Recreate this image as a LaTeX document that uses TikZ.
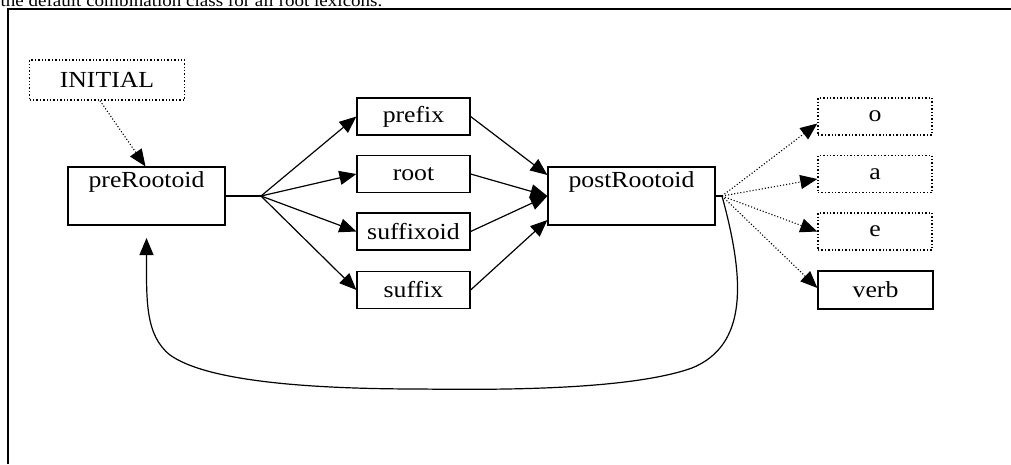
\documentclass[tikz,border=0pt]{standalone}
\usepackage{fontspec}
\setmainfont{Liberation Serif}
\newfontfamily\lblfont[FakeStretch=1.12]{Liberation Serif}
\usetikzlibrary{arrows.meta}
\begin{document}
\begin{tikzpicture}[x=1pt, y=-1pt, line width=1.2pt,
  box/.style = {shape=rectangle, draw, align=center, fill=white, font=\lblfont\fontsize{23}{26}\selectfont, inner sep=0pt, minimum height=37pt, minimum width=113pt},
  bigbox/.style = {box, text height=16pt, text depth=34pt, inner sep=4pt, minimum height=58pt},
  dottedbox/.style = {box, dotted, line width=1.4pt},
  arr/.style = {-{Triangle[length=17pt, width=14pt]}},
  dotarr/.style = {arr, dotted, line width=1.1pt}]
	\useasboundingbox (0,0) rectangle (1011,464);
	\clip (0,0) rectangle (1011,464);
	\node[anchor=base west, font=\lblfont\fontsize{17}{19}\selectfont, inner sep=0pt] (cap) at (0,6) {the default combination class for all root lexicons.};
	\draw[line width=1.6pt] (8,464) -- (8,9) -- (1011,9);
	% states
	\node[dottedbox, minimum width=155pt, minimum height=40pt] (init) at (107,80) {INITIAL};
	\node[bigbox, minimum width=157pt] (pre) at (146.5,196) {preRootoid};
	\node[box] (prefix) at (413.5,116.5) {prefix};
	\node[box] (root) at (413.5,174) {root};
	\node[box] (sfxoid) at (413.5,231.5) {suffixoid};
	\node[box] (suffix) at (413.5,290) {suffix};
	\node[bigbox, minimum width=167pt] (post) at (631.5,196) {postRootoid};
	\node[dottedbox, minimum width=114pt] (o) at (875,116.5) {o};
	\node[dottedbox, minimum width=114pt] (a) at (875,174) {a};
	\node[dottedbox, minimum width=114pt] (e) at (875,231.5) {e};
	\node[box, minimum width=115pt, minimum height=38pt] (verb) at (875.5,290) {verb};
	\coordinate (prej) at (261,196);
	\coordinate (postj) at (722,196);
	\coordinate (back) at (146.5,238);
	% transitions
	\draw[dotarr] ([xshift=-7pt]init.south) -- ([xshift=-1pt]pre.north);
	\draw (pre.east) -- (prej);
	\draw[arr] (prej) -- (prefix.west);
	\draw[arr] (prej) -- (root.west);
	\draw[arr] (prej) -- (sfxoid.west);
	\draw[arr] (prej) -- (suffix.west);
	\draw[arr] (prefix.east) -- ([yshift=21pt]post.west);
	\draw[arr] (root.east) -- (post.west);
	\draw[arr] (sfxoid.east) -- (post.west);
	\draw[arr] (suffix.east) -- ([yshift=-24pt]post.west);
	\draw (post.east) -- (postj);
	\draw[dotarr] (postj) -- ([yshift=-7pt]o.west);
	\draw[dotarr] (postj) -- ([yshift=-5pt]a.west);
	\draw[dotarr] (postj) -- (e.west);
	\draw[dotarr] (postj) -- ([yshift=2pt]verb.west);
	\draw[arr] (postj) .. controls (745,280) and (748,345) .. (692,368)
		.. controls (630,390) and (500,390) .. (420,389)
		.. controls (300,389) and (205,380) .. (170,355)
		.. controls (145,335) and (146.5,300) .. (back);
\end{tikzpicture}
\end{document}
